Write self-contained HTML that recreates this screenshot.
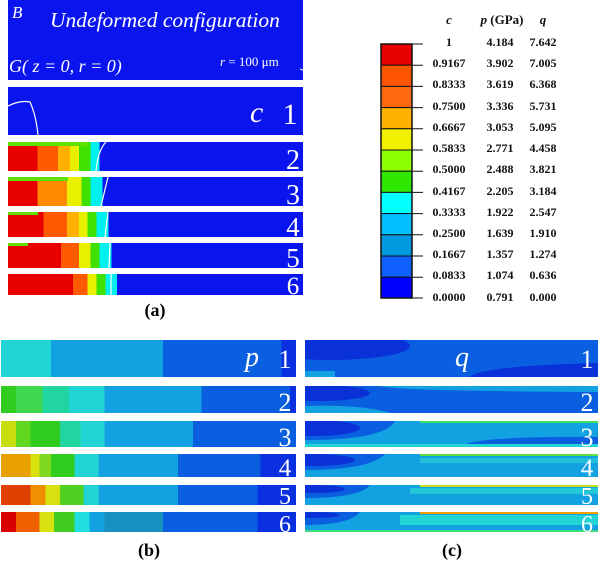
<!DOCTYPE html>
<html><head><style>
body{margin:0;background:#fff;width:600px;height:562px;overflow:hidden}
svg{display:block}
text{font-family:"Liberation Serif",serif}
</style></head><body>
<svg width="600" height="562" viewBox="0 0 600 562">
<defs>
<clipPath id="c1"><rect x="305" y="340" width="293" height="37"/></clipPath>
<clipPath id="c2"><rect x="305" y="386" width="293" height="27"/></clipPath>
<clipPath id="c3"><rect x="305" y="421" width="293" height="26"/></clipPath>
<clipPath id="c4"><rect x="305" y="454" width="293" height="23"/></clipPath>
<clipPath id="c5"><rect x="305" y="485" width="293" height="20"/></clipPath>
<clipPath id="c6"><rect x="305" y="512" width="293" height="20"/></clipPath>
<linearGradient id="a2"><stop offset="0" stop-color="#e80000"/><stop offset=".1" stop-color="#e80000"/><stop offset=".1" stop-color="#ff5a00"/><stop offset=".17" stop-color="#ff5a00"/><stop offset=".17" stop-color="#ffb000"/><stop offset=".21" stop-color="#ffb000"/><stop offset=".21" stop-color="#e8f000"/><stop offset=".24" stop-color="#e8f000"/><stop offset=".24" stop-color="#40e000"/><stop offset=".28" stop-color="#40e000"/><stop offset=".28" stop-color="#00f0f0"/><stop offset=".31" stop-color="#00f0f0"/><stop offset=".31" stop-color="#0a14ee"/></linearGradient>
<linearGradient id="a3"><stop offset="0" stop-color="#e80000"/><stop offset=".1" stop-color="#e80000"/><stop offset=".1" stop-color="#ff8a00"/><stop offset=".2" stop-color="#ff8a00"/><stop offset=".2" stop-color="#e8f000"/><stop offset=".25" stop-color="#e8f000"/><stop offset=".25" stop-color="#40e000"/><stop offset=".28" stop-color="#40e000"/><stop offset=".28" stop-color="#00f0f0"/><stop offset=".32" stop-color="#00f0f0"/><stop offset=".32" stop-color="#0a14ee"/></linearGradient>
<linearGradient id="a4"><stop offset="0" stop-color="#e80000"/><stop offset=".12" stop-color="#e80000"/><stop offset=".12" stop-color="#ff5a00"/><stop offset=".2" stop-color="#ff5a00"/><stop offset=".2" stop-color="#ffb000"/><stop offset=".24" stop-color="#ffb000"/><stop offset=".24" stop-color="#e8f000"/><stop offset=".27" stop-color="#e8f000"/><stop offset=".27" stop-color="#40e000"/><stop offset=".3" stop-color="#40e000"/><stop offset=".3" stop-color="#00f0f0"/><stop offset=".34" stop-color="#00f0f0"/><stop offset=".34" stop-color="#0a14ee"/></linearGradient>
<linearGradient id="a5"><stop offset="0" stop-color="#e80000"/><stop offset=".18" stop-color="#e80000"/><stop offset=".18" stop-color="#ff5a00"/><stop offset=".24" stop-color="#ff5a00"/><stop offset=".24" stop-color="#e8f000"/><stop offset=".28" stop-color="#e8f000"/><stop offset=".28" stop-color="#40e000"/><stop offset=".31" stop-color="#40e000"/><stop offset=".31" stop-color="#00f0f0"/><stop offset=".35" stop-color="#00f0f0"/><stop offset=".35" stop-color="#0a14ee"/></linearGradient>
<linearGradient id="a6"><stop offset="0" stop-color="#e80000"/><stop offset=".22" stop-color="#e80000"/><stop offset=".22" stop-color="#ff5a00"/><stop offset=".27" stop-color="#ff5a00"/><stop offset=".27" stop-color="#e8f000"/><stop offset=".3" stop-color="#e8f000"/><stop offset=".3" stop-color="#40e000"/><stop offset=".33" stop-color="#40e000"/><stop offset=".33" stop-color="#00f0f0"/><stop offset=".37" stop-color="#00f0f0"/><stop offset=".37" stop-color="#0a14ee"/></linearGradient>

<linearGradient id="b1"><stop offset="0" stop-color="#22d4d4"/><stop offset=".17" stop-color="#22d4d4"/><stop offset=".17" stop-color="#12a2e2"/><stop offset=".55" stop-color="#12a2e2"/><stop offset=".55" stop-color="#0a5ee0"/><stop offset=".95" stop-color="#0a5ee0"/><stop offset=".95" stop-color="#0a30e0"/></linearGradient>
<linearGradient id="b2"><stop offset="0" stop-color="#30cc20"/><stop offset=".05" stop-color="#30cc20"/><stop offset=".05" stop-color="#40d850"/><stop offset=".14" stop-color="#40d850"/><stop offset=".14" stop-color="#22d4a0"/><stop offset=".23" stop-color="#22d4a0"/><stop offset=".23" stop-color="#22d4d4"/><stop offset=".35" stop-color="#22d4d4"/><stop offset=".35" stop-color="#12a2e2"/><stop offset=".68" stop-color="#12a2e2"/><stop offset=".68" stop-color="#0a5ee0"/><stop offset=".98" stop-color="#0a5ee0"/><stop offset=".98" stop-color="#0a30e0"/></linearGradient>
<linearGradient id="b3"><stop offset="0" stop-color="#c8dc10"/><stop offset=".05" stop-color="#c8dc10"/><stop offset=".05" stop-color="#60d820"/><stop offset=".1" stop-color="#60d820"/><stop offset=".1" stop-color="#30cc20"/><stop offset=".2" stop-color="#30cc20"/><stop offset=".2" stop-color="#22d4a0"/><stop offset=".27" stop-color="#22d4a0"/><stop offset=".27" stop-color="#22d4d4"/><stop offset=".35" stop-color="#22d4d4"/><stop offset=".35" stop-color="#12a2e2"/><stop offset=".65" stop-color="#12a2e2"/><stop offset=".65" stop-color="#0a5ee0"/></linearGradient>
<linearGradient id="b4"><stop offset="0" stop-color="#e8a000"/><stop offset=".1" stop-color="#e8a000"/><stop offset=".1" stop-color="#d8e010"/><stop offset=".13" stop-color="#d8e010"/><stop offset=".13" stop-color="#80d820"/><stop offset=".17" stop-color="#80d820"/><stop offset=".17" stop-color="#30cc20"/><stop offset=".25" stop-color="#30cc20"/><stop offset=".25" stop-color="#22d4d4"/><stop offset=".33" stop-color="#22d4d4"/><stop offset=".33" stop-color="#12a2e2"/><stop offset=".6" stop-color="#12a2e2"/><stop offset=".6" stop-color="#0a5ee0"/><stop offset=".88" stop-color="#0a5ee0"/><stop offset=".88" stop-color="#0a30e0"/></linearGradient>
<linearGradient id="b5"><stop offset="0" stop-color="#e04000"/><stop offset=".1" stop-color="#e04000"/><stop offset=".1" stop-color="#f09000"/><stop offset=".15" stop-color="#f09000"/><stop offset=".15" stop-color="#d8e010"/><stop offset=".2" stop-color="#d8e010"/><stop offset=".2" stop-color="#50d020"/><stop offset=".28" stop-color="#50d020"/><stop offset=".28" stop-color="#22d4d4"/><stop offset=".33" stop-color="#22d4d4"/><stop offset=".33" stop-color="#12a2e2"/><stop offset=".6" stop-color="#12a2e2"/><stop offset=".6" stop-color="#0a5ee0"/><stop offset=".87" stop-color="#0a5ee0"/><stop offset=".87" stop-color="#0a30e0"/></linearGradient>
<linearGradient id="b6"><stop offset="0" stop-color="#d80000"/><stop offset=".05" stop-color="#d80000"/><stop offset=".05" stop-color="#f06000"/><stop offset=".13" stop-color="#f06000"/><stop offset=".13" stop-color="#d8e010"/><stop offset=".18" stop-color="#d8e010"/><stop offset=".18" stop-color="#40cc20"/><stop offset=".25" stop-color="#40cc20"/><stop offset=".25" stop-color="#22e0e0"/><stop offset=".3" stop-color="#22e0e0"/><stop offset=".3" stop-color="#12a2e2"/><stop offset=".35" stop-color="#12a2e2"/><stop offset=".35" stop-color="#1890c0"/><stop offset=".55" stop-color="#1890c0"/><stop offset=".55" stop-color="#0a5ee0"/><stop offset=".87" stop-color="#0a5ee0"/><stop offset=".87" stop-color="#0a30e0"/></linearGradient>
</defs>

<!-- panel a -->
<rect x="8" y="0" width="295" height="80" fill="#0a14ee"/>
<text x="12" y="18" fill="#fff" font-size="17" font-style="italic">B</text>
<text x="50" y="27" fill="#fff" font-size="21.5" font-style="italic">Undeformed configuration</text>
<text x="9" y="72" fill="#fff" font-size="18" font-style="italic">G( z = 0, r = 0)</text>
<text x="220" y="66" fill="#fff" font-size="13"><tspan font-style="italic">r</tspan> = 100 μm</text>
<line x1="300" y1="69" x2="308" y2="72" stroke="#fff" stroke-width="1"/>
<rect x="8" y="87" width="295" height="48" fill="#0a14ee"/>
<path d="M8 106 Q20 100 30 102 Q36 115 38 135" fill="none" stroke="#fff" stroke-width="1.2"/>
<text x="250" y="122" fill="#fff" font-size="30" font-style="italic">c</text>
<text x="290" y="124" fill="#fff" font-size="30" text-anchor="middle">1</text>
<rect x="8" y="142" width="295" height="29" fill="url(#a2)"/>
<rect x="8" y="142" width="80" height="4" fill="#60e000"/>
<path d="M106 142 Q98 150 96 171" fill="none" stroke="#fff" stroke-width="1.2"/>
<text x="293" y="169" fill="#fff" font-size="28" text-anchor="middle">2</text>
<rect x="8" y="177" width="295" height="29" fill="url(#a3)"/>
<rect x="8" y="177" width="60" height="4" fill="#60e000"/>
<line x1="108" y1="177" x2="101" y2="206" stroke="#fff" stroke-width="1.2"/>
<text x="293" y="204" fill="#fff" font-size="28" text-anchor="middle">3</text>
<rect x="8" y="212" width="295" height="25" fill="url(#a4)"/>
<rect x="8" y="212" width="30" height="3" fill="#60e000"/>
<line x1="108" y1="212" x2="105" y2="237" stroke="#fff" stroke-width="1.2"/>
<text x="293" y="236" fill="#fff" font-size="27" text-anchor="middle">4</text>
<rect x="8" y="243" width="295" height="25" fill="url(#a5)"/>
<rect x="8" y="243" width="20" height="3" fill="#60e000"/>
<line x1="110" y1="243" x2="109" y2="268" stroke="#fff" stroke-width="1.2"/>
<text x="293" y="267" fill="#fff" font-size="27" text-anchor="middle">5</text>
<rect x="8" y="274" width="295" height="21" fill="url(#a6)"/>
<line x1="111" y1="274" x2="111" y2="295" stroke="#fff" stroke-width="1.2"/>
<text x="293" y="294" fill="#fff" font-size="25" text-anchor="middle">6</text>
<text x="155" y="316" font-size="18" font-weight="bold" text-anchor="middle">(a)</text>

<!-- legend -->
<g font-size="11.5" font-weight="bold" text-anchor="middle" fill="#111">
<text x="449" y="24" font-style="italic" font-size="13">c</text>
<text x="502" y="24" font-size="13"><tspan font-style="italic">p</tspan> (GPa)</text>
<text x="543" y="24" font-style="italic" font-size="13">q</text>
</g>
<g stroke="#111" stroke-width="1">
<rect x="381" y="44" width="31" height="21.2" fill="#e80000"/>
<rect x="381" y="65.2" width="31" height="21.2" fill="#ff5500"/>
<rect x="381" y="86.4" width="31" height="21.2" fill="#ff6a10"/>
<rect x="381" y="107.6" width="31" height="21.2" fill="#ffb300"/>
<rect x="381" y="128.8" width="31" height="21.2" fill="#f0f000"/>
<rect x="381" y="150" width="31" height="21.2" fill="#8cff00"/>
<rect x="381" y="171.2" width="31" height="21.2" fill="#2ee600"/>
<rect x="381" y="192.4" width="31" height="21.2" fill="#00ffff"/>
<rect x="381" y="213.6" width="31" height="21.2" fill="#00c0ff"/>
<rect x="381" y="234.8" width="31" height="21.2" fill="#0099dd"/>
<rect x="381" y="256" width="31" height="21.2" fill="#1060ff"/>
<rect x="381" y="277.2" width="31" height="20.8" fill="#0000ff"/>
<rect x="381" y="44" width="31" height="254" fill="none" stroke-width="1.5"/>
<path d="M412 44h11M412 65.2h11M412 86.4h11M412 107.6h11M412 128.8h11M412 150h11M412 171.2h11M412 192.4h11M412 213.6h11M412 234.8h11M412 256h11M412 277.2h11M412 298h11"/>
</g>
<g font-size="12" font-weight="bold" text-anchor="middle" fill="#111">
<text x="449" y="46">1</text><text x="500" y="46">4.184</text><text x="543" y="46">7.642</text>
<text x="449" y="67">0.9167</text><text x="500" y="67">3.902</text><text x="543" y="67">7.005</text>
<text x="449" y="88">0.8333</text><text x="500" y="88">3.619</text><text x="543" y="88">6.368</text>
<text x="449" y="110">0.7500</text><text x="500" y="110">3.336</text><text x="543" y="110">5.731</text>
<text x="449" y="131">0.6667</text><text x="500" y="131">3.053</text><text x="543" y="131">5.095</text>
<text x="449" y="152">0.5833</text><text x="500" y="152">2.771</text><text x="543" y="152">4.458</text>
<text x="449" y="173">0.5000</text><text x="500" y="173">2.488</text><text x="543" y="173">3.821</text>
<text x="449" y="195">0.4167</text><text x="500" y="195">2.205</text><text x="543" y="195">3.184</text>
<text x="449" y="216">0.3333</text><text x="500" y="216">1.922</text><text x="543" y="216">2.547</text>
<text x="449" y="237">0.2500</text><text x="500" y="237">1.639</text><text x="543" y="237">1.910</text>
<text x="449" y="258">0.1667</text><text x="500" y="258">1.357</text><text x="543" y="258">1.274</text>
<text x="449" y="279">0.0833</text><text x="500" y="279">1.074</text><text x="543" y="279">0.636</text>
<text x="449" y="301">0.0000</text><text x="500" y="301">0.791</text><text x="543" y="301">0.000</text>
</g>

<!-- panel b -->
<rect x="1" y="340" width="295" height="37" fill="url(#b1)"/>
<text x="245" y="366" fill="#fff" font-size="28" font-style="italic">p</text>
<text x="285" y="368" fill="#fff" font-size="26" text-anchor="middle">1</text>
<rect x="1" y="386" width="295" height="27" fill="url(#b2)"/>
<text x="285" y="411" fill="#fff" font-size="26" text-anchor="middle">2</text>
<rect x="1" y="421" width="295" height="26" fill="url(#b3)"/>
<text x="285" y="446" fill="#fff" font-size="26" text-anchor="middle">3</text>
<rect x="1" y="454" width="295" height="23" fill="url(#b4)"/>
<text x="285" y="476" fill="#fff" font-size="25" text-anchor="middle">4</text>
<rect x="1" y="485" width="295" height="20" fill="url(#b5)"/>
<text x="285" y="504" fill="#fff" font-size="24" text-anchor="middle">5</text>
<rect x="1" y="512" width="295" height="20" fill="url(#b6)"/>
<text x="285" y="532" fill="#fff" font-size="24" text-anchor="middle">6</text>
<text x="149" y="556" font-size="18" font-weight="bold" text-anchor="middle">(b)</text>

<!-- panel c -->
<g clip-path="url(#c1)">
<rect x="305" y="340" width="293" height="37" fill="#0a5ee0"/>
<ellipse cx="330" cy="346" rx="80" ry="14" fill="#0a30d8"/>
<path d="M470 377 Q480 366 598 363 L598 377Z" fill="#0a30d8"/>
<rect x="305" y="371" width="30" height="6" fill="#12a2e2"/>
</g>
<text x="455" y="366" fill="#fff" font-size="28" font-style="italic">q</text>
<text x="587" y="368" fill="#fff" font-size="26" text-anchor="middle">1</text>

<g clip-path="url(#c2)">
<rect x="305" y="386" width="293" height="27" fill="#0a5ee0"/>
<path d="M380 386 Q395 391 598 392 L598 386Z" fill="#12a2e2"/>
<path d="M305 406 Q360 404 390 413 L305 413Z" fill="#12a2e2"/>
<ellipse cx="320" cy="393" rx="50" ry="8" fill="#0a30d8"/>
</g>
<text x="587" y="411" fill="#fff" font-size="26" text-anchor="middle">2</text>

<g clip-path="url(#c3)">
<rect x="305" y="421" width="293" height="26" fill="#12a2e2"/>
<path d="M305 421 L395 421 Q385 440 305 440Z" fill="#0a5ee0"/>
<ellipse cx="315" cy="428" rx="45" ry="8" fill="#0a30d8"/>
<path d="M460 447 Q470 436 598 437 L598 447Z" fill="#0a5ee0"/>
<rect x="305" y="444" width="293" height="3" fill="#22d4d4"/>
<rect x="420" y="421" width="178" height="2" fill="#40e060"/>
</g>
<text x="587" y="446" fill="#fff" font-size="26" text-anchor="middle">3</text>

<g clip-path="url(#c4)">
<rect x="305" y="454" width="293" height="23" fill="#12a2e2"/>
<path d="M305 454 L385 454 Q370 470 305 470Z" fill="#0a5ee0"/>
<ellipse cx="315" cy="460" rx="40" ry="6" fill="#0a30d8"/>
<rect x="420" y="458" width="178" height="5" fill="#22c0d8"/>
<rect x="420" y="454" width="178" height="2" fill="#60e040"/>
</g>
<text x="587" y="476" fill="#fff" font-size="25" text-anchor="middle">4</text>

<g clip-path="url(#c5)">
<rect x="305" y="485" width="293" height="20" fill="#12a2e2"/>
<path d="M305 485 L370 485 Q360 498 305 498Z" fill="#0a5ee0"/>
<ellipse cx="315" cy="489" rx="30" ry="4" fill="#0a30d8"/>
<rect x="410" y="488" width="188" height="6" fill="#22c8d8"/>
<rect x="420" y="485" width="178" height="2" fill="#c0e020"/>
</g>
<text x="587" y="504" fill="#fff" font-size="24" text-anchor="middle">5</text>

<g clip-path="url(#c6)">
<rect x="305" y="512" width="293" height="20" fill="#12a2e2"/>
<path d="M305 512 L360 512 Q350 525 305 525Z" fill="#0a5ee0"/>
<ellipse cx="315" cy="515" rx="25" ry="3" fill="#0a30d8"/>
<rect x="400" y="515" width="198" height="10" fill="#22d4d4"/>
<rect x="305" y="530" width="293" height="2" fill="#40e080"/>
<rect x="420" y="512" width="178" height="2" fill="#f0a000"/>
</g>
<text x="587" y="532" fill="#fff" font-size="24" text-anchor="middle">6</text>
<text x="452" y="556" font-size="18" font-weight="bold" text-anchor="middle">(c)</text>
</svg>
</body></html>
